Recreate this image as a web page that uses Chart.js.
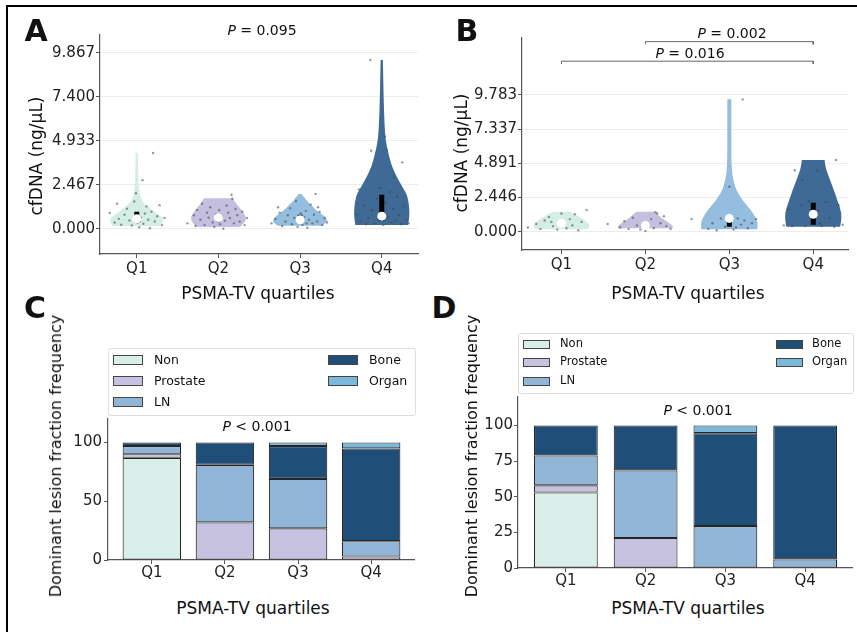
<!DOCTYPE html>
<html>
<head>
<meta charset="utf-8">
<script src="https://cdn.jsdelivr.net/npm/chart.js@4.4.0/dist/chart.umd.min.js"></script>
<style>
body { margin: 0; background: #fff; }
#fig { position: relative; width: 857px; height: 632px; overflow: hidden; background: #fff; font-family: "DejaVu Sans", sans-serif; color: #111; }
canvas { position: absolute; }
.t { position: absolute; transform: translate(-50%, -50%); white-space: nowrap; line-height: 1; }
.rot { transform: translate(-50%, -50%) rotate(-90deg); }
.line { position: absolute; background: #000; }
.lbox { position: absolute; border: 1px solid #dedede; border-radius: 3px; background: #fff; }
.sw { position: absolute; border: 1px solid #444; box-sizing: border-box; }
.lt { position: absolute; transform: translateY(-50%); line-height: 1; white-space: nowrap; }
</style>
</head>
<body>
<div id="fig">
  <div class="line" style="left:6px;top:5px;width:851px;height:2px"></div>
  <div class="line" style="left:6px;top:5px;width:2px;height:627px"></div>

  <canvas id="chartA" width="383" height="265" style="left:40px;top:25px"></canvas>
  <canvas id="chartB" width="393" height="262" style="left:460px;top:28px"></canvas>
  <canvas id="chartC" width="355" height="187" style="left:60px;top:408px"></canvas>
  <canvas id="chartD" width="383" height="208" style="left:470px;top:387px"></canvas>

  <div class="t" style="left:36px;top:31px;font-size:30px;font-weight:bold">A</div>
  <div class="t" style="left:467px;top:31px;font-size:30px;font-weight:bold">B</div>
  <div class="t" style="left:35px;top:308px;font-size:30px;font-weight:bold">C</div>
  <div class="t" style="left:444px;top:308px;font-size:30px;font-weight:bold">D</div>

  <div class="t" style="left:262px;top:30px;font-size:14px"><i>P</i> = 0.095</div>
  <div class="t" style="left:732px;top:33px;font-size:14px"><i>P</i> = 0.002</div>
  <div class="t" style="left:690px;top:53px;font-size:14px"><i>P</i> = 0.016</div>
  <div class="t" style="left:257px;top:426px;font-size:14px"><i>P</i> &lt; 0.001</div>
  <div class="t" style="left:698px;top:410px;font-size:14px"><i>P</i> &lt; 0.001</div>

  <div class="t" style="left:258px;top:293px;font-size:17px">PSMA-TV quartiles</div>
  <div class="t" style="left:688px;top:293px;font-size:17px">PSMA-TV quartiles</div>
  <div class="t" style="left:253px;top:608px;font-size:17px">PSMA-TV quartiles</div>
  <div class="t" style="left:688px;top:608px;font-size:17px">PSMA-TV quartiles</div>

  <div class="t rot" style="left:36px;top:156px;font-size:17px">cfDNA (ng/μL)</div>
  <div class="t rot" style="left:461px;top:153px;font-size:17px">cfDNA (ng/μL)</div>
  <div class="t rot" style="left:56px;top:456px;font-size:16px">Dominant lesion fraction frequency</div>
  <div class="t rot" style="left:472px;top:456px;font-size:16px">Dominant lesion fraction frequency</div>

  <div class="lbox" style="left:108px;top:348px;width:306px;height:66px"></div>
  <div class="lbox" style="left:518px;top:333px;width:334px;height:59px"></div>
  <div id="legendC"></div>
  <div id="legendD"></div>
</div>

<script>
var FONT = '"DejaVu Sans", sans-serif';
var quartiles = ['Q1', 'Q2', 'Q3', 'Q4'];

// panel A: cfDNA, all patients
var aTicks = [0, 2.467, 4.933, 7.400, 9.867];
// violin outline: [cfDNA value, relative half width]
var aVioQ1 = [[0.15,0.86],[0.48,1],[0.76,0.83],[1.0,0.6],[1.23,0.39],[1.5,0.22],[1.79,0.12],[2.3,0.07],[3.2,0.05],[4.26,0.04]];
var aVioQ2 = [[0.1,0.78],[0.35,0.95],[0.6,1],[0.85,0.93],[1.05,0.83],[1.3,0.7],[1.5,0.6],[1.7,0.52]];
var aVioQ3 = [[0.17,0.8],[0.39,1],[0.64,0.93],[0.85,0.75],[1.05,0.57],[1.3,0.42],[1.5,0.28],[1.75,0.15],[1.94,0.06]];
var aVioQ4 = [[0.2,0.95],[0.6,0.99],[1.05,1],[1.79,0.94],[2.2,0.8],[2.73,0.6],[3.2,0.45],[3.66,0.33],[4.6,0.18],[5.26,0.12],[6.6,0.08],[8.0,0.06],[9.46,0.04]];
var aLowQ = [0.35, 0.4, 0.35, 0.45];
var aMedian = [0.55, 0.62, 0.5, 0.7];
var aHighQ = [0.95, 0.85, 0.78, 1.9];
// patients: [jitter, cfDNA]
var aPtsQ1 = [[-0.33,0.88],[-0.27,0.35],[-0.22,0.55],[-0.19,0.22],[-0.15,0.78],[-0.12,1.12],[-0.09,0.46],[-0.06,0.18],[-0.03,1.52],[-0.01,1.99],[0.01,0.33],[0.03,0.08],[0.05,0.62],[0.07,2.72],[0.08,0.28],[0.1,0.85],[0.12,1.25],[0.14,0.5],[0.16,0.02],[0.18,0.95],[0.2,4.24],[0.22,0.4],[0.25,0.7],[0.28,1.32],[0.31,0.2],[0.34,0.6],[-0.24,1.4],[0.04,0.42]];
var aPtsQ2 = [[-0.38,0.3],[-0.3,0.75],[-0.26,1.05],[-0.22,0.5],[-0.2,1.4],[-0.17,0.2],[-0.14,0.9],[-0.12,0.62],[-0.1,1.2],[-0.07,0.35],[-0.05,0.1],[-0.03,0.8],[-0.01,0.55],[0.01,1.05],[0.02,0.25],[0.04,0.7],[0.06,0.0],[0.08,0.45],[0.1,1.3],[0.12,0.9],[0.14,0.6],[0.16,1.9],[0.17,1.68],[0.19,0.3],[0.21,1.1],[0.23,0.75],[0.26,0.4],[0.29,0.95],[0.32,0.2],[0.35,0.6],[-0.28,0.15],[0.0,0.4]];
var aPtsQ3 = [[-0.35,0.3],[-0.3,0.55],[-0.25,0.9],[-0.22,0.15],[-0.18,0.4],[-0.15,0.75],[-0.12,1.15],[-0.1,0.25],[-0.07,0.6],[-0.05,1.55],[-0.03,0.1],[-0.01,0.45],[0.01,0.85],[0.03,0.2],[0.05,0.65],[0.07,1.0],[0.09,0.05],[0.11,0.5],[0.13,1.35],[0.15,0.3],[0.17,0.78],[0.19,1.95],[0.21,0.4],[0.24,0.95],[0.27,0.2],[0.3,0.6],[0.33,0.35],[-0.27,1.2],[0.08,0.3],[0.22,1.2]];
var aPtsQ4 = [[-0.14,9.46],[-0.13,4.37],[0.04,5.16],[0.06,4.41],[0.25,3.72],[-0.3,0.8],[-0.26,0.4],[-0.22,1.3],[-0.19,0.25],[-0.16,0.6],[-0.12,1.05],[-0.09,0.3],[-0.06,1.7],[-0.04,0.5],[-0.02,2.3],[0.0,0.9],[0.02,0.2],[0.05,1.45],[0.08,0.65],[0.1,2.05],[0.12,0.35],[0.14,1.1],[0.17,0.45],[0.19,1.8],[0.21,0.75],[0.24,0.25],[0.27,1.25],[0.3,0.5],[0.33,0.3],[-0.28,2.2],[0.15,2.9]];

// panel B
var bTicks = [0, 2.446, 4.891, 7.337, 9.783];
var bVioQ1 = [[0.17,0.9],[0.36,1],[0.6,0.95],[0.96,0.72],[1.2,0.5],[1.43,0.29]];
var bVioQ2 = [[0.24,0.95],[0.36,1],[0.6,0.85],[0.96,0.58],[1.2,0.45],[1.43,0.32]];
var bVioQ3 = [[0.17,0.98],[0.6,1],[0.96,0.94],[1.55,0.76],[2.27,0.45],[2.8,0.3],[3.22,0.2],[4.18,0.09],[5.5,0.07],[7.5,0.07],[9.47,0.07]];
var bVioQ4 = [[0.36,0.94],[0.6,0.97],[1.32,1],[2.27,0.84],[3.22,0.68],[4.18,0.5],[4.7,0.42],[5.13,0.4]];
var bLowQ = [0.35, 0.3, 0.35, 0.5];
var bMedian = [0.6, 0.45, 0.95, 1.25];
var bHighQ = [0.75, 0.6, 1.0, 2.07];
var bPtsQ1 = [[-0.4,0.3],[-0.3,0.55],[-0.25,0.2],[-0.2,0.8],[-0.15,1.05],[-0.1,0.4],[-0.05,0.15],[0.0,1.3],[0.03,0.6],[0.06,0.25],[0.1,0.9],[0.13,0.45],[0.16,1.25],[0.2,0.1],[0.24,0.7],[0.3,1.55],[-0.12,0.7]];
var bPtsQ2 = [[-0.45,0.55],[-0.3,0.3],[-0.25,0.75],[-0.2,0.2],[-0.15,1.0],[-0.1,0.45],[-0.06,0.15],[-0.02,0.6],[0.0,0.05],[0.03,0.35],[0.07,0.9],[0.1,0.25],[0.14,1.3],[0.18,0.6],[0.22,1.1],[0.25,0.4],[0.3,0.2],[0.12,1.4]];
var bPtsQ3 = [[0.16,9.47],[0.0,3.22],[-0.45,0.9],[-0.25,0.2],[-0.2,0.6],[-0.15,0.1],[-0.1,0.95],[-0.05,0.35],[0.0,0.7],[0.05,0.15],[0.1,0.95],[0.14,0.5],[0.18,0.8],[0.22,0.25],[0.27,0.6],[0.32,0.9],[0.08,0.3]];
var bPtsQ4 = [[-0.22,4.4],[0.04,4.36],[-0.13,3.7],[0.27,5.13],[-0.3,1.6],[-0.25,0.4],[-0.15,1.9],[-0.1,0.4],[-0.05,2.2],[0.02,0.9],[0.06,1.5],[0.1,0.4],[0.15,2.1],[0.2,1.0],[0.25,0.35],[0.3,1.9],[0.35,0.5],[-0.35,0.45],[0.08,0.6]];
// significance brackets: [from quartile, to quartile, height]
var bPairs = [[2, 4, 13.6], [1, 4, 12.2]];

var violinColors = ['#d4eee5', '#c4bfdf', '#94bddf', '#3e6a95'];

// panels C and D: dominant lesion fraction (%)
var lesionTypes = ['Non', 'Prostate', 'LN', 'Bone', 'Organ'];
var lesionColors = ['#d9efe9', '#c7c2e0', '#90b5d6', '#1f4e79', '#7bb8da'];
var cNon = [87, 0, 0, 0];
var cProstate = [3, 32, 27, 3];
var cLN = [7, 49, 42, 13];
var cBone = [3, 19, 28, 79];
var cOrgan = [0, 0, 3, 5];
var dNon = [53, 0, 0, 0];
var dProstate = [5, 21, 0, 0];
var dLN = [21, 47.5, 29.4, 6];
var dBone = [21, 31.5, 65.2, 94];
var dOrgan = [0, 0, 5.4, 0];
var cTicks = [0, 50, 100];
var dTicks = [0, 25, 50, 75, 100];

// draws each violin as a smoothed polygon through the chart scales
var violinPlugin = {
  id: 'violins',
  beforeDatasetsDraw: function(chart) {
    var o = chart.options.plugins.violins;
    if (!o || !o.shapes) return;
    var xs = chart.scales.x, ys = chart.scales.y, ctx = chart.ctx, a = chart.chartArea;
    ctx.save();
    ctx.beginPath();
    ctx.rect(a.left, a.top, a.right - a.left, a.bottom - a.top);
    ctx.clip();
    o.shapes.forEach(function(shape, i) {
      var c = i + 1;
      var right = shape.map(function(p) { return [xs.getPixelForValue(c + p[1] * o.halfWidth), ys.getPixelForValue(p[0])]; });
      var left = shape.map(function(p) { return [xs.getPixelForValue(c - p[1] * o.halfWidth), ys.getPixelForValue(p[0])]; }).reverse();
      ctx.beginPath();
      ctx.moveTo(left[left.length - 1][0], left[left.length - 1][1]);
      ctx.lineTo(right[0][0], right[0][1]);
      smooth(ctx, right);
      ctx.lineTo(left[0][0], left[0][1]);
      smooth(ctx, left);
      ctx.closePath();
      ctx.fillStyle = o.colors[i];
      ctx.fill();
    });
    ctx.restore();
  }
};

function smooth(ctx, pts) {
  for (var i = 1; i < pts.length - 1; i++) {
    var mx = (pts[i][0] + pts[i + 1][0]) / 2, my = (pts[i][1] + pts[i + 1][1]) / 2;
    ctx.quadraticCurveTo(pts[i][0], pts[i][1], mx, my);
  }
  ctx.lineTo(pts[pts.length - 1][0], pts[pts.length - 1][1]);
}

function fixTicks(list) {
  return function(scale) { scale.ticks = list.map(function(v) { return { value: v }; }); };
}

function violinChart(id, p) {
  var jitter = [], medians = [], boxes = [], brackets = [];
  p.points.forEach(function(pts, i) {
    pts.forEach(function(q) { jitter.push({ x: i + 1 + q[0], y: q[1] }); });
    medians.push({ x: i + 1, y: p.median[i] });
    boxes.push({ x: i + 1, y: p.low[i] }, { x: i + 1, y: p.high[i] }, { x: i + 1.5, y: null });
  });
  (p.pairs || []).forEach(function(b) {
    brackets.push({ x: b[0], y: b[2] - 0.2 }, { x: b[0], y: b[2] }, { x: b[1], y: b[2] }, { x: b[1], y: b[2] - 0.2 }, { x: b[1] + 0.1, y: null });
  });
  new Chart(document.getElementById(id), {
    type: 'scatter',
    data: {
      datasets: [
        { type: 'scatter', data: medians, pointRadius: 4.5, backgroundColor: '#fff', borderColor: '#fff', borderWidth: 0 },
        { type: 'line', data: boxes, borderColor: '#000', borderWidth: 5, pointRadius: 0, spanGaps: false },
        { type: 'line', data: brackets, borderColor: '#666', borderWidth: 1, pointRadius: 0, spanGaps: false, clip: false },
        { type: 'scatter', data: jitter, pointRadius: 1.2, backgroundColor: 'rgba(70,70,70,0.55)', borderWidth: 0 }
      ]
    },
    options: {
      responsive: false,
      animation: false,
      layout: { padding: { top: 10 } },
      plugins: {
        legend: { display: false },
        tooltip: { enabled: false },
        violins: { shapes: p.shapes, colors: violinColors, halfWidth: 0.34 }
      },
      scales: {
        x: {
          type: 'linear', min: p.xmin, max: p.xmax,
          afterBuildTicks: fixTicks([1, 2, 3, 4]),
          afterFit: function(s) { s.height = p.xh; },
          grid: { drawOnChartArea: false, tickLength: 4, tickColor: '#555' },
          border: { color: '#555', width: 1.2 },
          ticks: { callback: function(v) { return quartiles[v - 1]; }, font: { family: FONT, size: 15 }, color: '#222', padding: 2, maxRotation: 0, autoSkip: false }
        },
        y: {
          min: p.ymin, max: p.ymax,
          afterBuildTicks: fixTicks(p.ticks),
          afterFit: function(s) { s.width = p.yw; },
          grid: { color: '#ececec', tickColor: '#555', tickLength: 4 },
          border: { color: '#555', width: 1.2 },
          ticks: { callback: function(v) { return v.toFixed(3); }, font: { family: FONT, size: 15 }, color: '#222', padding: 1, autoSkip: false }
        }
      }
    },
    plugins: [violinPlugin]
  });
}

function barChart(id, p) {
  new Chart(document.getElementById(id), {
    type: 'bar',
    data: {
      datasets: p.series.map(function(vals, k) {
        return {
          label: lesionTypes[k],
          // empty segments are left out so they draw no edge line
          data: vals.map(function(v, i) { return { x: i, y: v > 0 ? v : null }; }),
          backgroundColor: lesionColors[k],
          borderColor: '#262626', borderWidth: 1.1, borderSkipped: false,
          barPercentage: 0.8, categoryPercentage: 1
        };
      })
    },
    options: {
      responsive: false,
      animation: false,
      layout: { padding: { top: 10 } },
      plugins: { legend: { display: false }, tooltip: { enabled: false } },
      scales: {
        x: {
          type: 'linear', stacked: true, offset: false, min: -0.6, max: 3.6,
          afterBuildTicks: fixTicks([0, 1, 2, 3]),
          afterFit: function(s) { s.height = p.xh; },
          grid: { drawOnChartArea: false, offset: false, tickLength: 4, tickColor: '#555' },
          border: { color: '#555', width: 1.2 },
          ticks: { callback: function(v) { return quartiles[v]; }, font: { family: FONT, size: 15 }, color: '#222', padding: 0, maxRotation: 0, autoSkip: false }
        },
        y: {
          stacked: true, min: 0, max: 120,
          afterBuildTicks: fixTicks(p.ticks),
          afterFit: function(s) { s.width = p.yw; },
          grid: { drawOnChartArea: false, tickLength: 4, tickColor: '#555' },
          border: { color: '#555', width: 1.2 },
          ticks: { font: { family: FONT, size: 15 }, color: '#222', padding: p.tp, autoSkip: false }
        }
      }
    }
  });
}

function legend(id, rows, swX, txX, sw, fs) {
  var html = '';
  lesionTypes.forEach(function(name, k) {
    var col = k < 3 ? 0 : 1, row = k < 3 ? k : k - 3;
    html += '<div class="sw" style="left:' + swX[col] + 'px;top:' + (rows[row] - sw[1] / 2) + 'px;width:' + sw[0] + 'px;height:' + sw[1] + 'px;background:' + lesionColors[k] + '"></div>';
    html += '<div class="lt" style="left:' + txX[col] + 'px;top:' + rows[row] + 'px;font-size:' + fs + 'px">' + name + '</div>';
  });
  document.getElementById(id).innerHTML = html;
}

violinChart('chartA', {
  shapes: [aVioQ1, aVioQ2, aVioQ3, aVioQ4], points: [aPtsQ1, aPtsQ2, aPtsQ3, aPtsQ4],
  low: aLowQ, median: aMedian, high: aHighQ, ticks: aTicks,
  xmin: 0.55, xmax: 4.45, ymin: -1.42, ymax: 10.86, xh: 36, yw: 60
});
violinChart('chartB', {
  shapes: [bVioQ1, bVioQ2, bVioQ3, bVioQ4], points: [bPtsQ1, bPtsQ2, bPtsQ3, bPtsQ4],
  low: bLowQ, median: bMedian, high: bHighQ, ticks: bTicks, pairs: bPairs,
  xmin: 0.53, xmax: 4.42, ymin: -1.31, ymax: 13.86, xh: 40, yw: 62
});
barChart('chartC', { series: [cNon, cProstate, cLN, cBone, cOrgan], ticks: cTicks, xh: 35, yw: 48, tp: 2 });
barChart('chartD', { series: [dNon, dProstate, dLN, dBone, dOrgan], ticks: dTicks, xh: 27, yw: 48, tp: 1 });

legend('legendC', [360, 381, 402], [113, 328], [154, 369], [30, 10], 12.5);
legend('legendD', [344, 362, 381], [523, 776], [560, 812], [27, 9], 11.5);
</script>
</body>
</html>
